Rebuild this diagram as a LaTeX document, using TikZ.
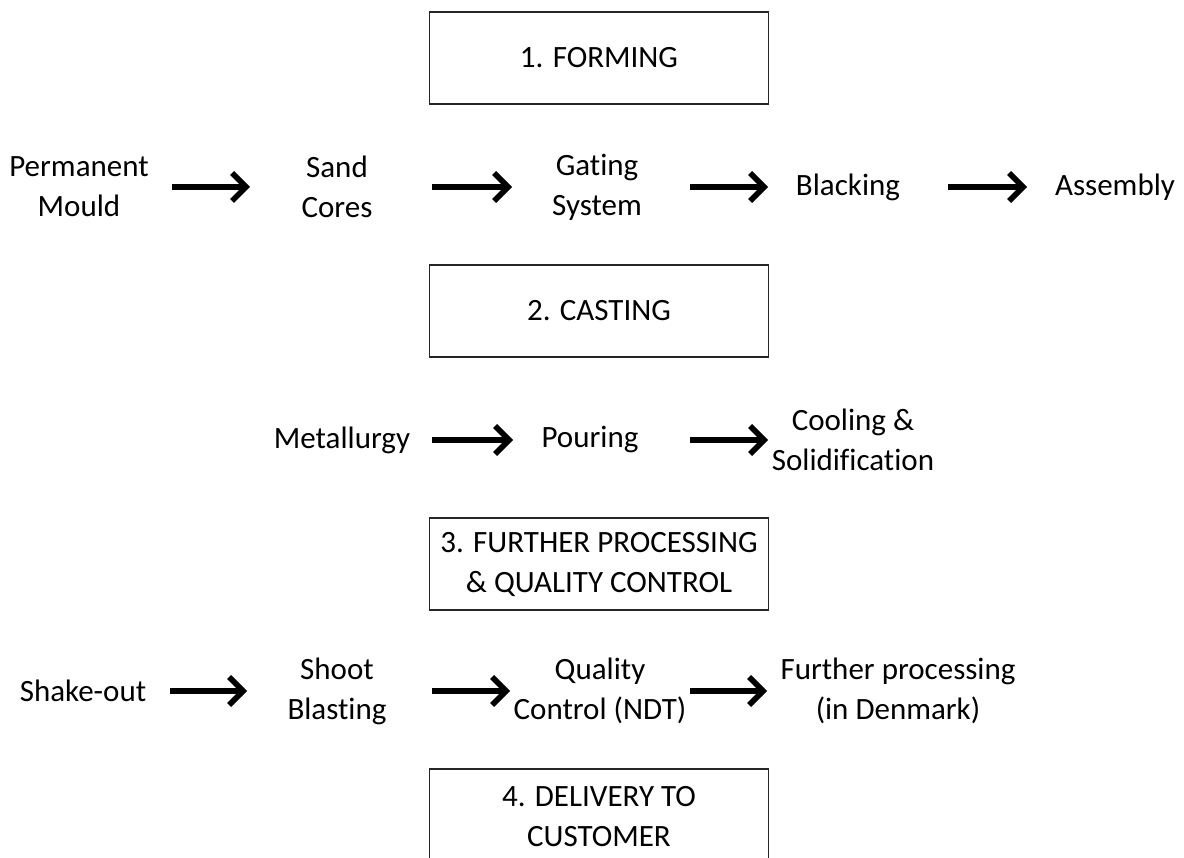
\documentclass[tikz,border=0pt]{standalone}
\usepackage{fontspec}
\setmainfont{Carlito}[Ligatures=NoCommon,RawFeature={-liga;-clig;-dlig}]
\usetikzlibrary{arrows.meta}
\begin{document}
\begin{tikzpicture}[x=1pt,y=-1pt,
  lbl/.style={inner sep=0pt,align=center,font=\fontsize{31}{40}\selectfont},
  stage/.style={draw=black!85,line width=1.6pt,minimum width=339pt,inner sep=0pt,align=center,font=\fontsize{31}{40}\selectfont},
  arr/.style={line width=5.5pt,-{Straight Barb[length=14pt,width=28pt,line width=5.5pt]}}]
\useasboundingbox (0,0) rectangle (1184,858);
\clip (0,0) rectangle (1184,858);
% stage boxes
\node[stage,minimum height=92pt] (b1) at (599,58) {1. FORMING};
\node[stage,minimum height=92pt] (b2) at (599,311) {2. CASTING};
\node[stage,minimum height=92pt] (b3) at (599,564) {3. FURTHER PROCESSING\\\& QUALITY CONTROL};
\node[stage,minimum height=96pt] (b4) at (599,817) {4. DELIVERY TO\\CUSTOMER};
% row 1
\node[lbl] (pm) at (79,187) {Permanent\\Mould};
\node[lbl] (sc) at (337,187) {Sand\\Cores};
\node[lbl] (gs) at (597,187) {Gating\\System};
\node[lbl] (bl) at (848,187) {Blacking};
\node[lbl] (as) at (1115,187) {Assembly};
\draw[arr,shorten <=93pt,shorten >=87pt] (pm.center) -- (sc.center);
\draw[arr,shorten <=95pt,shorten >=85pt] (sc.center) -- (gs.center);
\draw[arr,shorten <=93pt,shorten >=80pt] (gs.center) -- (bl.center);
\draw[arr,shorten <=100pt,shorten >=88pt] (bl.center) -- (as.center);
% row 2
\node[lbl] (me) at (342,440) {Metallurgy};
\node[lbl] (po) at (590,440) {Pouring};
\node[lbl] (co) at (853,440) {Cooling \&\\Solidification};
\draw[arr,shorten <=90pt,shorten >=77pt] (me.center) -- (po.center);
\draw[arr,shorten <=100pt,shorten >=85pt] (po.center) -- (co.center);
% row 3
\node[lbl] (so) at (83,691) {Shake-out};
\node[lbl] (sb) at (337,691) {Shoot\\Blasting};
\node[lbl] (qc) at (600,691) {Quality\\Control (NDT)};
\node[lbl] (fp) at (898,691) {Further processing\\(in Denmark)};
\draw[arr,shorten <=87pt,shorten >=90pt] (so.center) -- (sb.center);
\draw[arr,shorten <=95pt,shorten >=90pt] (sb.center) -- (qc.center);
\draw[arr,shorten <=90pt,shorten >=131pt] (qc.center) -- (fp.center);
\end{tikzpicture}
\end{document}
